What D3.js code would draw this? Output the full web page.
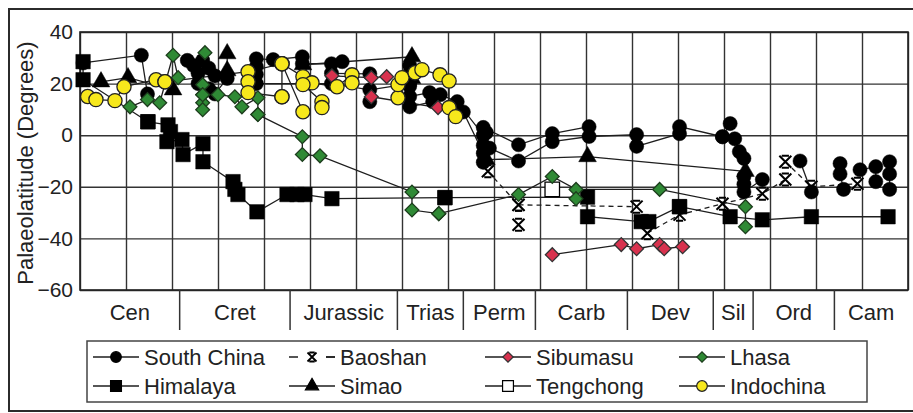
<!DOCTYPE html>
<html>
<head>
<meta charset="utf-8">
<script src="https://cdn.jsdelivr.net/npm/d3@7"></script>
<style>
  body { margin: 0; background: #fff; }
  svg { display: block; font-family: "Liberation Sans", Arial, Helvetica, sans-serif; }
</style>
</head>
<body>
<div id="chart"></div>
<script>
const width = 913;
const height = 413;

const yTicks = [40, 20, 0, -20, -40, -60];
const xGridAges = d3.range(0, 541, 30);
const periodNames = ["Cen", "Cret", "Jurassic", "Trias", "Perm", "Carb", "Dev", "Sil", "Ord", "Cam"];
const periodBounds = [0, 65, 137, 207, 250, 297, 357, 413, 439, 492, 540];

// each terrane is a list of tracks, a track is [age (Ma), palaeolatitude] pairs
const southChina = [
    [[2, 28], [40, 31], [44, 16]],
    [[70, 29], [74, 27], [77, 24], [80, 29], [84, 26], [88, 23]],
    [[77, 20], [84, 18], [88, 16], [96, 22]],
    [[115, 23.5], [115, 26.5], [115, 29.6], [126, 29.3], [145, 30.4], [145, 27.7], [164, 27.7], [171, 28.5]],
    [[115, 20], [164, 20], [189, 17.6], [215, 20]],
    [[164, 24], [189, 23.8], [189, 13]],
    [[215, 27], [215, 24], [215, 19], [215, 15], [228, 16.5], [235, 15.7], [246, 13], [263, 0], [263, -4]],
    [[215, 11], [230, 13], [250, 9], [263, -7], [263, -10.5]],
    [[263, 3], [286, -3.7], [308, 0.6], [332, 3.3]],
    [[265, 1], [267, -5], [286, -10], [308, -2.5], [332, -0.5], [363, 0.2]],
    [[363, -4.3], [391, 0.6], [391, 3.3], [419, -0.6]],
    [[424, 4.5], [419, -0.6], [427, -1.4], [430, -6.4], [433, -9], [433, -16], [433, -19], [433, -22], [445, -17.2]],
    [[469.6, -10], [477, -22]],
    [[495.7, -11], [495.7, -15], [498, -21]],
    [[508.7, -13.4], [519, -12.2], [519, -18]],
    [[528, -10.3], [528, -15], [528, -21]]
];

const himalaya = [
    [[2, 28.5], [2, 21.5], [44.3, 5.2]],
    [[44.3, 5.2], [57.4, 4], [59, 1.4], [56.7, -2.5], [66.5, -1.7], [67.2, -7.5], [80.2, -3.3], [80.2, -10.3],
     [99.8, -18], [101, -21], [103, -23], [115.4, -29.7], [135, -23], [141.5, -23], [146.7, -23], [164.3, -24.6], [238, -24.2]],
    [[238, -24.2], [331, -24], [331, -31.6], [366, -33.5], [371, -33.5], [391, -27.7]],
    [[391, -27.7], [424, -31.6], [445, -32.8], [477, -31.6], [527, -31.6]]
];

const baoshan = [
    [[266, -14], [286, -27]],
    [[286, -34.7]],
    [[286, -27], [363, -27.7]],
    [[370, -38], [391, -30.8], [419, -26.6], [445, -22.7], [460, -17.2]],
    [[460, -10.3], [477, -20], [507, -18.8]]
];

const simao = [
    [[13.7, 20.7], [31.3, 22.3], [60.7, 17.6]],
    [[96, 31.6], [96, 25]],
    [[145.4, 27.3], [216.5, 30.4], [216.5, 22]],
    [[265, -9.5], [331, -8.3], [434, -14]]
];

const sibumasu = [
    [[164.3, 23], [190, 22.3], [200, 22.7]],
    [[190, 14.9], [233.5, 10.7]],
    [[308, -46.3], [353, -42.4], [363, -44], [378, -42.4], [381, -44], [393, -43.2]]
];

const tengchong = [
    [[308, -21]]
];

const lhasa = [
    [[32.6, 11], [44, 13.8], [52, 12.6], [60.7, 31], [64, 22.3]],
    [[81.5, 32], [80, 19.6], [80, 15.7], [80, 12.6], [80, 9.9]],
    [[80, 15.7], [90, 15.7], [101, 14.9], [105.6, 11], [116, 14.5], [116, 8]],
    [[116, 8], [145, -0.6], [145, -7.5], [156.5, -8], [216.5, -22], [216.5, -29], [234, -30.4]],
    [[234, -30.4], [286, -23], [308, -16], [323.5, -21], [378, -21], [434, -27.7], [434, -35.5]],
    [[323.5, -24.6]]
];

const indochina = [
    [[5, 15], [10.4, 13.8], [22.8, 13.4], [28.7, 18.8], [49.6, 21.5], [55.4, 20.7]],
    [[55.4, 20.7], [109.6, 24.6], [131.7, 27.7], [131.7, 14.9]],
    [[109.6, 20.7], [109.6, 16.5], [131.7, 14.9]],
    [[131.7, 27.7], [145.4, 22.7], [151.3, 20.3], [167.6, 18.8], [177.4, 23.4], [177.4, 20.3]],
    [[131.7, 27.7], [145.4, 9.1]],
    [[145.4, 19.6], [157.8, 13], [157.8, 10.7]],
    [[207.4, 14.5], [207.4, 19.6], [210, 22.3], [218.5, 24.2], [223, 25.4], [234.8, 23.4], [240.7, 21], [240.7, 10.7], [245, 7.2]]
];

const series = [
    { name: "South China", tracks: southChina, sym: "circle", fill: "#000", stroke: "#000" },
    { name: "Himalaya", tracks: himalaya, sym: "square", fill: "#000", stroke: "#000" },
    { name: "Baoshan", tracks: baoshan, sym: "cross", fill: "none", stroke: "#000", dash: "5,4" },
    { name: "Simao", tracks: simao, sym: "triangle", fill: "#000", stroke: "#000" },
    { name: "Sibumasu", tracks: sibumasu, sym: "diamond", fill: "#d8324e", stroke: "#333" },
    { name: "Tengchong", tracks: tengchong, sym: "square", fill: "#fff", stroke: "#000" },
    { name: "Lhasa", tracks: lhasa, sym: "diamond", fill: "#2f8a35", stroke: "#1d3d1d" },
    { name: "Indochina", tracks: indochina, sym: "circle", fill: "#f7e81c", stroke: "#222" }
];

const x = d3.scaleLinear().domain([0, 540]).range([80, 908]);
const y = d3.scaleLinear().domain([-60, 40]).range([290, 32]);

function symbolPath(type, k) {
    // k = 1 in plot, smaller in legend
    if (type === "circle") return d3.symbol(d3.symbolCircle, 158 * k * k)();
    if (type === "square") return d3.symbol(d3.symbolSquare, 210 * k * k)();
    if (type === "triangle") return d3.symbol(d3.symbolTriangle, 135 * k * k)();
    if (type === "diamond") return d3.symbol(d3.symbolSquare, 95 * k * k)();
    const h = 6 * k;
    return `M${-h},${-h}L${h},${h}M${-h},${h}L${h},${-h}M${-h * 0.6},${-h}H${h * 0.6}M${-h * 0.6},${h}H${h * 0.6}`;
}

const svg = d3.select("#chart").append("svg")
    .attr("width", width)
    .attr("height", height)
    .attr("viewBox", [0, 0, width, height]);

// outer frame
svg.append("rect")
    .attr("x", 9).attr("y", 9)
    .attr("width", 930).attr("height", 402)
    .attr("fill", "none")
    .attr("stroke", "#2b2b2b")
    .attr("stroke-width", 2);

// grid
svg.append("g")
    .attr("transform", `translate(0,${y(-60)})`)
    .call(d3.axisBottom(x).tickValues(xGridAges).tickSize(-(y(-60) - y(40))).tickFormat(""))
    .call(g => g.select(".domain").remove())
    .call(g => g.selectAll("line").attr("stroke", "#333").attr("stroke-width", 1.4));

svg.append("g")
    .attr("transform", `translate(${x(0)},0)`)
    .call(d3.axisLeft(y).tickValues(yTicks).tickSize(-(x(540) - x(0))).tickPadding(7))
    .call(g => g.select(".domain").remove())
    .call(g => g.selectAll("line").attr("stroke", "#333").attr("stroke-width", 1.4))
    .call(g => g.selectAll("text").attr("font-size", 21).attr("fill", "#222")
        .attr("font-family", "'Liberation Sans', Arial, sans-serif"));

svg.append("rect")
    .attr("x", x(0)).attr("y", y(40))
    .attr("width", x(540) - x(0)).attr("height", y(-60) - y(40))
    .attr("fill", "none").attr("stroke", "#222").attr("stroke-width", 1.6);

// y title
svg.append("text")
    .attr("transform", `translate(33,${(y(40) + y(-60)) / 2 + 2}) rotate(-90)`)
    .attr("text-anchor", "middle")
    .attr("font-size", 22)
    .attr("fill", "#222")
    .text("Palaeolatitude (Degrees)");

// geological periods under the plot
const periods = periodNames.map((name, i) => ({ name, a0: periodBounds[i], a1: periodBounds[i + 1] }));

svg.append("g")
    .selectAll("line")
    .data(periodBounds.slice(1, -1))
    .join("line")
    .attr("x1", d => x(d)).attr("x2", d => x(d))
    .attr("y1", y(-60)).attr("y2", y(-60) + 40)
    .attr("stroke", "#333").attr("stroke-width", 1.5);

svg.append("g")
    .selectAll("text")
    .data(periods)
    .join("text")
    .attr("x", d => (x(d.a0) + x(d.a1)) / 2)
    .attr("y", y(-60) + 30)
    .attr("text-anchor", "middle")
    .attr("font-size", 22)
    .attr("fill", "#222")
    .text(d => d.name);

// data lines
const line = d3.line().x(d => x(d[0])).y(d => y(d[1]));

const lineLayer = svg.append("g").attr("fill", "none");
series.forEach(s => {
    lineLayer.append("g")
        .selectAll("path")
        .data(s.tracks.filter(t => t.length > 1))
        .join("path")
        .attr("d", line)
        .attr("stroke", "#1e1e1e")
        .attr("stroke-width", 1.3)
        .attr("stroke-dasharray", s.dash || null);
});

// markers
series.forEach(s => {
    const pts = s.tracks.flat();
    svg.append("g")
        .selectAll("path")
        .data(pts)
        .join("path")
        .attr("transform", d => `translate(${x(d[0])},${y(d[1])})${s.sym === "diamond" ? " rotate(45)" : ""}`)
        .attr("d", symbolPath(s.sym, 1))
        .attr("fill", s.fill)
        .attr("stroke", s.stroke)
        .attr("stroke-width", s.sym === "cross" ? 2 : (s.fill === "#000" ? 0.5 : 1.3));
});

// legend
const legend = svg.append("g");
legend.append("rect")
    .attr("x", 87).attr("y", 341)
    .attr("width", 780).attr("height", 61)
    .attr("fill", "#fff").attr("stroke", "#444").attr("stroke-width", 1.5);

const colX = [93, 289, 485, 679];
const rowY = [357, 386];

const item = legend.selectAll("g.item")
    .data(series)
    .join("g")
    .attr("class", "item")
    .attr("transform", (d, i) => `translate(${colX[Math.floor(i / 2)]},${rowY[i % 2]})`);

item.append("line")
    .attr("x1", 0).attr("x2", 46)
    .attr("stroke", "#1e1e1e").attr("stroke-width", 1.5)
    .attr("stroke-dasharray", d => d.dash ? "9,28" : null);

item.filter(d => d.dash).append("line")
    .attr("x1", 37).attr("x2", 46)
    .attr("stroke", "#1e1e1e").attr("stroke-width", 1.5);

item.append("path")
    .attr("transform", d => `translate(23,0)${d.sym === "diamond" ? " rotate(45)" : ""}`)
    .attr("d", d => symbolPath(d.sym, 0.75))
    .attr("fill", d => d.fill)
    .attr("stroke", d => d.stroke)
    .attr("stroke-width", d => d.sym === "cross" ? 1.8 : 1.2);

item.append("text")
    .attr("x", 51)
    .attr("y", 8)
    .attr("font-size", 22)
    .attr("fill", "#222")
    .text(d => d.name);
</script>
</body>
</html>
